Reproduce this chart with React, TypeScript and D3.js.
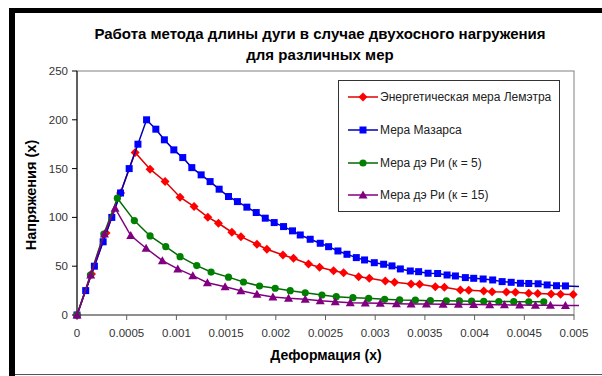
import React from "react";
import * as d3 from "d3";

const title1 = "Работа метода длины дуги в случае двухосного нагружения";
const title2 = "для различных мер";
const xTitle = "Деформация (x)";
const yTitle = "Напряжения (x)";

const xTicks = [0, 0.0005, 0.001, 0.0015, 0.002, 0.0025, 0.003, 0.0035, 0.004, 0.0045, 0.005];
const xTickLabels = ["0", "0.0005", "0.001", "0.0015", "0.002", "0.0025", "0.003", "0.0035", "0.004", "0.0045", "0.005"];
const yTicks = [0, 50, 100, 150, 200, 250];

const seriesNames = [
  "Энергетическая мера Лемэтра",
  "Мера Мазарса",
  "Мера дэ Ри (к = 5)",
  "Мера дэ Ри (к = 15)",
];

const redX = [0, 0.000146, 0.000292, 0.000438, 0.000585, 0.000735, 0.000886, 0.001037, 0.001178, 0.001316, 0.001423, 0.001558, 0.001649, 0.00181, 0.00191, 0.002072, 0.002178, 0.002329, 0.00244, 0.002581, 0.002682, 0.002833, 0.002941, 0.003102, 0.003195, 0.003361, 0.003447, 0.003605, 0.003696, 0.003857, 0.003941, 0.004092, 0.004176, 0.00432, 0.004411, 0.004545, 0.004635, 0.00477, 0.004864, 0.004992];
const redY = [0, 42, 84, 125, 166.5, 149.4, 136.8, 120.7, 111.1, 100.2, 94, 84.8, 80.3, 72.5, 67.4, 61.5, 58.2, 52.3, 48.9, 45.4, 43.4, 39.3, 37.6, 34.9, 33.5, 31.8, 31.5, 29, 28.4, 25.6, 25.3, 24.6, 23.9, 23.5, 23.3, 22.3, 22.1, 21.5, 21.3, 21.1];

const blueX = [0, 0.0000875, 0.000175, 0.000263, 0.00035, 0.000438, 0.000525, 0.000613, 0.0007, 0.000793, 0.000879, 0.000974, 0.001064, 0.001155, 0.001249, 0.001339, 0.00143, 0.001524, 0.001614, 0.001709, 0.001803, 0.001894, 0.001984, 0.002078, 0.002168, 0.002246, 0.002346, 0.002447, 0.002531, 0.002625, 0.002716, 0.00281, 0.002893, 0.002991, 0.003085, 0.003169, 0.003253, 0.003353, 0.003437, 0.003532, 0.003628, 0.003723, 0.003807, 0.003907, 0.003991, 0.004086, 0.004182, 0.004277, 0.004368, 0.004461, 0.004545, 0.004639, 0.00473, 0.004824, 0.004914, 0.00505];
const blueY = [0, 25, 50, 75, 100, 125, 150, 175, 200, 190.4, 179.5, 169.2, 161.3, 151, 143.6, 136.7, 128.9, 121.4, 116.2, 110.5, 105, 99.2, 94.7, 90.6, 86.2, 82, 77.6, 73.5, 70, 65.6, 62.2, 58.8, 56.4, 53.6, 52, 50.3, 47.2, 45.1, 44.4, 42.8, 42.5, 41, 40, 38.3, 37.6, 36.9, 35.9, 34.2, 33.5, 32.5, 32.3, 32, 30.8, 30, 29.8, 29.2];

const greenX = [0, 0.000135, 0.00027, 0.000406, 0.000577, 0.000735, 0.000893, 0.001037, 0.001205, 0.001349, 0.001524, 0.001675, 0.001836, 0.001994, 0.002145, 0.002296, 0.002464, 0.002608, 0.002776, 0.002934, 0.003095, 0.003246, 0.003404, 0.003555, 0.003716, 0.003847, 0.00397, 0.004092, 0.004243, 0.004394, 0.004545, 0.004696];
const greenY = [0, 41, 83, 119.7, 96.7, 81, 70, 59.8, 50.6, 44, 38.8, 33.8, 29.7, 27.4, 24.9, 22.8, 20.5, 18.8, 17.8, 17.1, 16.1, 15.4, 15.2, 14.7, 14.5, 14.4, 14.2, 14, 13.8, 13.7, 13.6, 13.5];

const purpleX = [0, 0.000138, 0.000276, 0.000383, 0.000541, 0.000695, 0.000859, 0.001014, 0.001165, 0.001312, 0.00149, 0.001649, 0.00181, 0.001971, 0.002128, 0.002296, 0.002447, 0.002598, 0.002749, 0.0029, 0.003051, 0.003213, 0.003361, 0.003515, 0.003683, 0.003837, 0.003991, 0.004152, 0.0043, 0.004454, 0.004612, 0.004763, 0.004914, 0.00505];
const purpleY = [0, 41, 83, 109.4, 81.4, 68.4, 55.7, 47.2, 40.3, 33.1, 29, 24.9, 21.2, 18.5, 17.1, 16.1, 14.7, 13.7, 12.6, 12.3, 12, 11.6, 11.3, 11.2, 11, 10.9, 10.8, 10.5, 10.4, 10.2, 10.1, 10, 9.8, 9.7];

type Shape = "diamond" | "square" | "circle" | "triangle";
const series = [
  { name: seriesNames[0], xs: redX, ys: redY, line: "#e00000", fill: "#ff0000", shape: "diamond" as Shape },
  { name: seriesNames[1], xs: blueX, ys: blueY, line: "#0000b0", fill: "#0000ff", shape: "square" as Shape },
  { name: seriesNames[2], xs: greenX, ys: greenY, line: "#006a00", fill: "#008000", shape: "circle" as Shape },
  { name: seriesNames[3], xs: purpleX, ys: purpleY, line: "#800080", fill: "#800080", shape: "triangle" as Shape },
];

const FONT = "'Liberation Sans', Arial, sans-serif";

function Marker({ shape, cx, cy, fill }: { shape: Shape; cx: number; cy: number; fill: string }) {
  if (shape === "square") return <rect x={cx - 3.5} y={cy - 3.5} width={7} height={7} fill={fill} />;
  if (shape === "circle") return <circle cx={cx} cy={cy} r={3.6} fill={fill} />;
  if (shape === "diamond")
    return <path d={`M${cx},${cy - 4.5}L${cx + 4.5},${cy}L${cx},${cy + 4.5}L${cx - 4.5},${cy}Z`} fill={fill} />;
  return <path d={`M${cx},${cy - 4.5}L${cx + 4.5},${cy + 3.5}L${cx - 4.5},${cy + 3.5}Z`} fill={fill} />;
}

export default function App() {
  const W = 602, H = 376;
  const left = 77, right = 574, top = 71, bottom = 315;
  const x = d3.scaleLinear().domain([0, 0.005]).range([left, right]);
  const y = d3.scaleLinear().domain([0, 250]).range([bottom, top]);

  const legendX = 338, legendY = 80, legendW = 221, legendH = 131;
  const legendRows = [97, 130, 163, 195];

  return (
    <div style={{ position: "absolute", left: 0, top: 0 }}>
      <svg width={W} height={H} style={{ display: "block", fontFamily: FONT }}>
        <rect x={0} y={0} width={W} height={H} fill="#fff" />
        {/* outer frame */}
        <rect x={9} y={8} width={W - 9} height={5} fill="#000" />
        <rect x={9} y={8} width={6} height={H - 8} fill="#000" />
        <line x1={15} x2={W} y1={374.5} y2={374.5} stroke="#555" strokeWidth={1} />

        {/* title */}
        <text x={320} y={39} textAnchor="middle" fontSize={15} fontWeight="bold" fill="#000">{title1}</text>
        <text x={320} y={60} textAnchor="middle" fontSize={15} fontWeight="bold" fill="#000">{title2}</text>

        {/* plot area border */}
        <rect x={left} y={top} width={right - left} height={bottom - top} fill="none" stroke="#808080" strokeWidth={1} />
        <line x1={left} x2={left} y1={top} y2={bottom} stroke="#000" strokeWidth={1} />
        <line x1={left} x2={right} y1={bottom} y2={bottom} stroke="#606060" strokeWidth={1} />

        {/* y ticks */}
        {yTicks.map((t) => (
          <g key={"y" + t}>
            <line x1={left - 5} x2={left} y1={y(t)} y2={y(t)} stroke="#000" />
            <text x={left - 9} y={y(t) + 4} textAnchor="end" fontSize={11.5} fill="#333">{t}</text>
          </g>
        ))}
        {/* x ticks */}
        {xTicks.map((t, i) => (
          <g key={"x" + t}>
            <line x1={x(t)} x2={x(t)} y1={bottom} y2={bottom + 5} stroke="#606060" />
            <text x={x(t)} y={bottom + 22} textAnchor="middle" fontSize={11.5} fill="#333">{xTickLabels[i]}</text>
          </g>
        ))}

        {/* axis titles */}
        <text x={326} y={360} textAnchor="middle" fontSize={14} fontWeight="bold" fill="#000">{xTitle}</text>
        <text transform={`translate(36,${(top + bottom) / 2 + 2}) rotate(-90)`} textAnchor="middle" fontSize={14.5} fontWeight="bold" fill="#000">{yTitle}</text>

        {/* series */}
        {series.map((s) => {
          const pts = s.xs.map((v, i) => [v, s.ys[i]] as [number, number]);
          const line = d3.line<[number, number]>().x((d) => x(d[0])).y((d) => y(d[1]));
          return (
            <g key={s.name}>
              <path d={line(pts) || ""} fill="none" stroke={s.line} strokeWidth={1.5} />
              {pts.filter((p) => p[0] <= 0.005).map((p, i) => (
                <Marker key={i} shape={s.shape} cx={x(p[0])} cy={y(p[1])} fill={s.fill} />
              ))}
            </g>
          );
        })}

        {/* legend */}
        <rect x={legendX + 0.5} y={legendY + 0.5} width={legendW} height={legendH} fill="#fff" stroke="#333" strokeWidth={1} />
        {series.map((s, i) => (
          <g key={"lg" + i}>
            <line x1={348} x2={378} y1={legendRows[i]} y2={legendRows[i]} stroke={s.line} strokeWidth={1.5} />
            <Marker shape={s.shape} cx={363} cy={legendRows[i]} fill={s.fill} />
            <text x={380} y={legendRows[i] + 4} fontSize={12} fill="#222">{s.name}</text>
          </g>
        ))}
      </svg>
    </div>
  );
}
